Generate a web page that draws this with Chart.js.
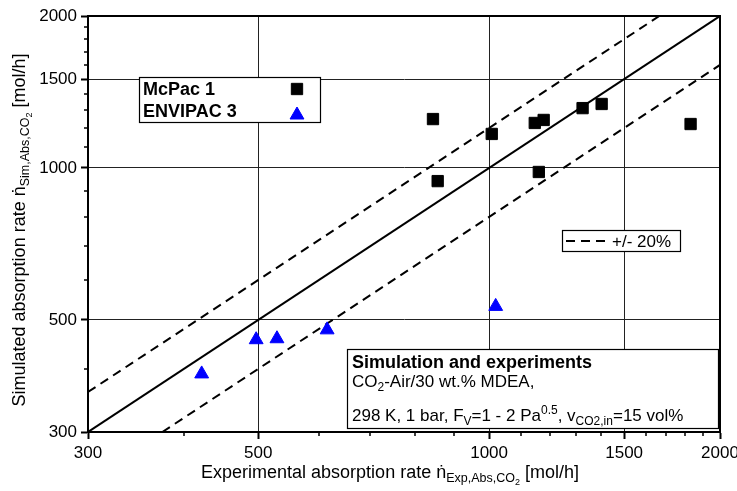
<!DOCTYPE html>
<html>
<head>
<meta charset="utf-8">
<script src="https://cdn.jsdelivr.net/npm/chart.js@4.4.0/dist/chart.umd.min.js"></script>
<style>
    html, body { margin: 0; padding: 0; background: #fff; }
    #wrap { width: 737px; height: 491px; }
</style>
</head>
<body>
<div id="wrap"><canvas id="parityChart"></canvas></div>
<script>
// experimental (x) vs simulated (y) absorption rate, mol/h
const mcpacExp = [845, 857, 1008, 1147, 1178, 1161, 1324, 1402, 1831];
const mcpacSim = [1250, 942, 1168, 1228, 1245, 982, 1314, 1339, 1222];
const envipacExp = [422, 497, 529, 615, 1020];
const envipacSim = [391, 457, 459, 478, 532];

// parity line and the +/- 20% band
const parityX = [300, 2000];
const parityY = [300, 2000];
const upperX = [300, 1667];
const upperY = [360, 2000];
const lowerX = [375, 2000];
const lowerY = [300, 1600];

const majorTicks = [300, 500, 1000, 1500, 2000];
const minorTicks = [400, 600, 700, 800, 900, 1100, 1200, 1300, 1400, 1600, 1700, 1800, 1900];

const FONT = '"Liberation Sans", Arial, sans-serif';

const pts = (xs, ys) => xs.map((x, i) => ({ x: x, y: ys[i] }));

// draws a row of text pieces, each [text, size, yShift, bold]
function drawRuns(ctx, runs, x, y, center) {
    const fontOf = r => (r[3] ? 'bold ' : '') + r[1] + 'px ' + FONT;
    let total = 0;
    runs.forEach(r => { ctx.font = fontOf(r); total += ctx.measureText(r[0]).width; });
    let cx = center ? x - total / 2 : x;
    runs.forEach(r => {
        ctx.font = fontOf(r);
        ctx.fillText(r[0], cx, y + (r[2] || 0));
        cx += ctx.measureText(r[0]).width;
    });
}

function box(ctx, x1, y1, x2, y2) {
    ctx.fillStyle = '#fff';
    ctx.fillRect(x1, y1, x2 - x1, y2 - y1);
    ctx.strokeStyle = '#000';
    ctx.lineWidth = 1.2;
    ctx.strokeRect(x1 + 0.5, y1 + 0.5, x2 - x1, y2 - y1);
}

const decorations = {
    id: 'decorations',
    afterDatasetsDraw(chart) {
        const ctx = chart.ctx;
        const a = chart.chartArea;
        const xs = chart.scales.x, ys = chart.scales.y;
        ctx.save();

        // frame top + right
        ctx.strokeStyle = '#000';
        ctx.lineWidth = 2;
        ctx.beginPath();
        ctx.moveTo(a.left, a.top);
        ctx.lineTo(a.right, a.top);
        ctx.lineTo(a.right, a.bottom);
        ctx.stroke();

        // minor ticks
        ctx.lineWidth = 1.5;
        ctx.beginPath();
        minorTicks.forEach(v => {
            const px = Math.round(xs.getPixelForValue(v));
            ctx.moveTo(px, a.bottom);
            ctx.lineTo(px, a.bottom + 4);
            const py = Math.round(ys.getPixelForValue(v));
            ctx.moveTo(a.left, py);
            ctx.lineTo(a.left - 4, py);
        });
        ctx.stroke();

        // series legend
        box(ctx, 139, 77, 320, 122);
        ctx.fillStyle = '#000';
        ctx.textBaseline = 'alphabetic';
        drawRuns(ctx, [['McPac 1', 18, 0, true]], 143, 95);
        drawRuns(ctx, [['ENVIPAC 3', 18, 0, true]], 143, 117);
        const ds = chart.data.datasets;
        [[0, 89], [1, 115]].forEach(([i, y]) => {
            ctx.fillStyle = ds[i].backgroundColor;
            ctx.strokeStyle = ds[i].borderColor;
            ctx.lineWidth = 1;
            Chart.helpers.drawPoint(ctx, { pointStyle: ds[i].pointStyle, radius: ds[i].pointRadius, borderWidth: 1, rotation: 0 }, 297, y);
        });

        // +/- 20% legend
        box(ctx, 562, 230, 680, 251);
        ctx.strokeStyle = '#000';
        ctx.lineWidth = 2;
        ctx.setLineDash([9, 6]);
        ctx.beginPath();
        ctx.moveTo(566, 241);
        ctx.lineTo(609, 241);
        ctx.stroke();
        ctx.setLineDash([]);
        ctx.fillStyle = '#000';
        drawRuns(ctx, [['+/- 20%', 17]], 612, 247);

        // conditions box
        box(ctx, 347, 349, 718, 428);
        ctx.fillStyle = '#000';
        drawRuns(ctx, [['Simulation and experiments', 18, 0, true]], 352, 368);
        drawRuns(ctx, [['CO', 17], ['2', 12, 4], ['-Air/30 wt.% MDEA,', 17]], 352, 387);
        drawRuns(ctx, [['298 K, 1 bar, F', 17], ['V', 12, 4], ['=1 - 2 Pa', 17], ['0.5', 12, -7],
            [', v', 17], ['CO2,in', 12, 4], ['=15 vol%', 17]], 352, 421);

        // axis titles
        drawRuns(ctx, [['Experimental absorption rate ṅ', 18], ['Exp,Abs,CO', 12.5, 4], ['2', 9, 7], [' [mol/h]', 18]],
            390, 478, true);
        ctx.translate(25, 230);
        ctx.rotate(-Math.PI / 2);
        drawRuns(ctx, [['Simulated absorption rate ṅ', 18], ['Sim,Abs,CO', 12.5, 4], ['2', 9, 7], [' [mol/h]', 18]],
            0, 0, true);
        ctx.restore();
    }
};

function axis(isX) {
    return {
        type: 'logarithmic',
        min: 300,
        max: 2000,
        afterBuildTicks: s => { s.ticks = majorTicks.map(v => ({ value: v })); },
        afterFit: s => {
            if (isX) {
                s.height = 59;
                s.paddingLeft = 0;
                s.paddingRight = 0;
            } else {
                s.width = 88;
                s.paddingTop = 0;
                s.paddingBottom = 0;
            }
        },
        ticks: {
            autoSkip: false,
            maxRotation: 0,
            color: '#000',
            padding: 4,
            font: { family: FONT, size: 17 },
            callback: v => String(v)
        },
        grid: {
            color: c => (c.tick && (c.tick.value === 300 || c.tick.value === 2000)) ? 'rgba(0,0,0,0)' : '#222',
            lineWidth: 1,
            tickColor: '#000',
            tickWidth: 2,
            tickLength: 7
        },
        border: { display: true, color: '#000', width: 2 },
        title: { display: false }
    };
}

const ctx = document.getElementById('parityChart').getContext('2d');
new Chart(ctx, {
    type: 'scatter',
    data: {
        datasets: [
            {
                label: 'McPac 1',
                data: pts(mcpacExp, mcpacSim),
                pointStyle: 'rect',
                pointRadius: 8,
                borderWidth: 1,
                backgroundColor: '#000',
                borderColor: '#000'
            },
            {
                label: 'ENVIPAC 3',
                data: pts(envipacExp, envipacSim),
                pointStyle: 'triangle',
                pointRadius: 8,
                borderWidth: 1,
                backgroundColor: '#0000ff',
                borderColor: '#0000ff'
            },
            {
                label: 'parity',
                data: pts(parityX, parityY),
                showLine: true,
                pointRadius: 0,
                borderColor: '#000',
                borderWidth: 2
            },
            {
                label: '+20%',
                data: pts(upperX, upperY),
                showLine: true,
                pointRadius: 0,
                borderColor: '#000',
                borderWidth: 2,
                borderDash: [9, 6]
            },
            {
                label: '-20%',
                data: pts(lowerX, lowerY),
                showLine: true,
                pointRadius: 0,
                borderColor: '#000',
                borderWidth: 2,
                borderDash: [9, 6]
            }
        ]
    },
    options: {
        responsive: true,
        maintainAspectRatio: false,
        animation: false,
        layout: { padding: { top: 16, right: 17, left: 0, bottom: 0 } },
        plugins: {
            legend: { display: false },
            tooltip: { enabled: false }
        },
        scales: {
            x: axis(true),
            y: axis(false)
        }
    },
    plugins: [decorations]
});
</script>
</body>
</html>
